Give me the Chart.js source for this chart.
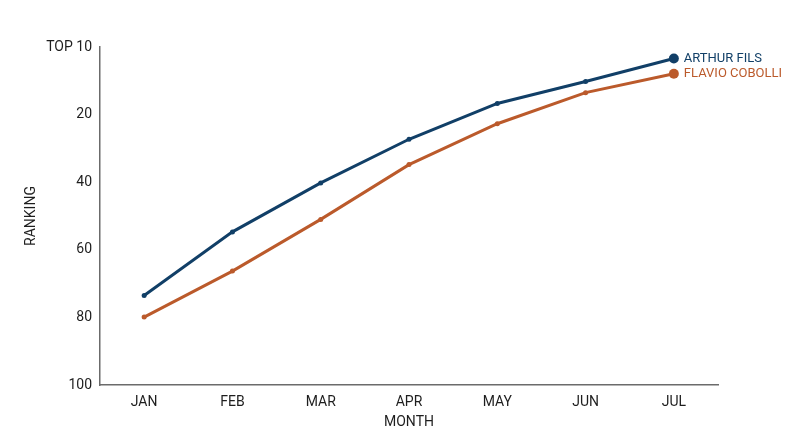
<!DOCTYPE html>
<html>
<head>
<meta charset="utf-8">
<script src="https://cdn.jsdelivr.net/npm/chart.js@4.4.1/dist/chart.umd.min.js"></script>
<style>
  html, body { margin: 0; padding: 0; background: #fff; }
  #wrap { width: 800px; height: 447px; }
</style>
</head>
<body>
<div id="wrap"><canvas id="rankChart"></canvas></div>
<script>
'use strict';

// data
const months = ['JAN', 'FEB', 'MAR', 'APR', 'MAY', 'JUN', 'JUL'];
const arthurFils = [73.5, 54.7, 40.2, 27.3, 16.7, 10.2, 3.4];
const flavioCobolli = [79.9, 66.3, 51.0, 34.8, 22.7, 13.5, 7.9];
const yTicks = [0, 20, 40, 60, 80, 100];
const topLabel = 'TOP 10';

const blue = '#113f67';
const orange = '#bb5a2b';
const textColor = '#1e1e1e';
const axisColor = '#6b6b6b';

// end-of-line name labels next to the last point
const endLabels = {
  id: 'endLabels',
  afterDatasetsDraw(chart) {
    const ctx = chart.ctx;
    ctx.save();
    ctx.font = '13px Roboto';
    ctx.textAlign = 'left';
    ctx.textBaseline = 'middle';
    chart.data.datasets.forEach((ds, i) => {
      const meta = chart.getDatasetMeta(i);
      const pt = meta.data[meta.data.length - 1];
      ctx.fillStyle = ds.borderColor;
      ctx.fillText(ds.label, pt.x + 10, pt.y);
    });
    ctx.restore();
  }
};

function pointSizes(n, small, big) {
  return Array.from({ length: n }, (_, i) => (i === n - 1 ? big : small));
}

new Chart(document.getElementById('rankChart'), {
  type: 'line',
  data: {
    labels: months,
    datasets: [{
      label: 'ARTHUR FILS',
      data: arthurFils,
      borderColor: blue,
      backgroundColor: blue,
      borderWidth: 3,
      pointRadius: pointSizes(months.length, 2.5, 5),
      pointBorderWidth: 0,
      tension: 0
    }, {
      label: 'FLAVIO COBOLLI',
      data: flavioCobolli,
      borderColor: orange,
      backgroundColor: orange,
      borderWidth: 3,
      pointRadius: pointSizes(months.length, 2.5, 5),
      pointBorderWidth: 0,
      tension: 0
    }]
  },
  options: {
    responsive: true,
    maintainAspectRatio: false,
    animation: false,
    layout: { padding: { top: 47, right: 82, bottom: 0, left: 0 } },
    plugins: {
      legend: { display: false },
      tooltip: { enabled: false }
    },
    scales: {
      x: {
        offset: true,
        grid: { display: false, drawTicks: false },
        border: { display: true, color: axisColor, width: 1.5 },
        ticks: { color: textColor, font: { family: 'Roboto', size: 14 }, padding: 9 },
        title: {
          display: true,
          text: 'MONTH',
          color: textColor,
          font: { family: 'Roboto', size: 14 },
          padding: { top: 0, bottom: 16 }
        },
        afterFit(scale) { scale.height = 62; }
      },
      y: {
        reverse: true,
        min: 0,
        max: 100,
        grid: { display: false, drawTicks: false },
        border: { display: true, color: axisColor, width: 1.5 },
        afterBuildTicks(scale) { scale.ticks = yTicks.map(v => ({ value: v })); },
        ticks: {
          color: textColor,
          font: { family: 'Roboto', size: 14 },
          padding: 8,
          callback: v => (v === 0 ? topLabel : v)
        },
        title: {
          display: true,
          text: 'RANKING',
          color: textColor,
          font: { family: 'Roboto', size: 14 },
          padding: { top: 23, bottom: 0 }
        },
        afterFit(scale) { scale.width = 100; }
      }
    }
  },
  plugins: [endLabels]
});
</script>
</body>
</html>
